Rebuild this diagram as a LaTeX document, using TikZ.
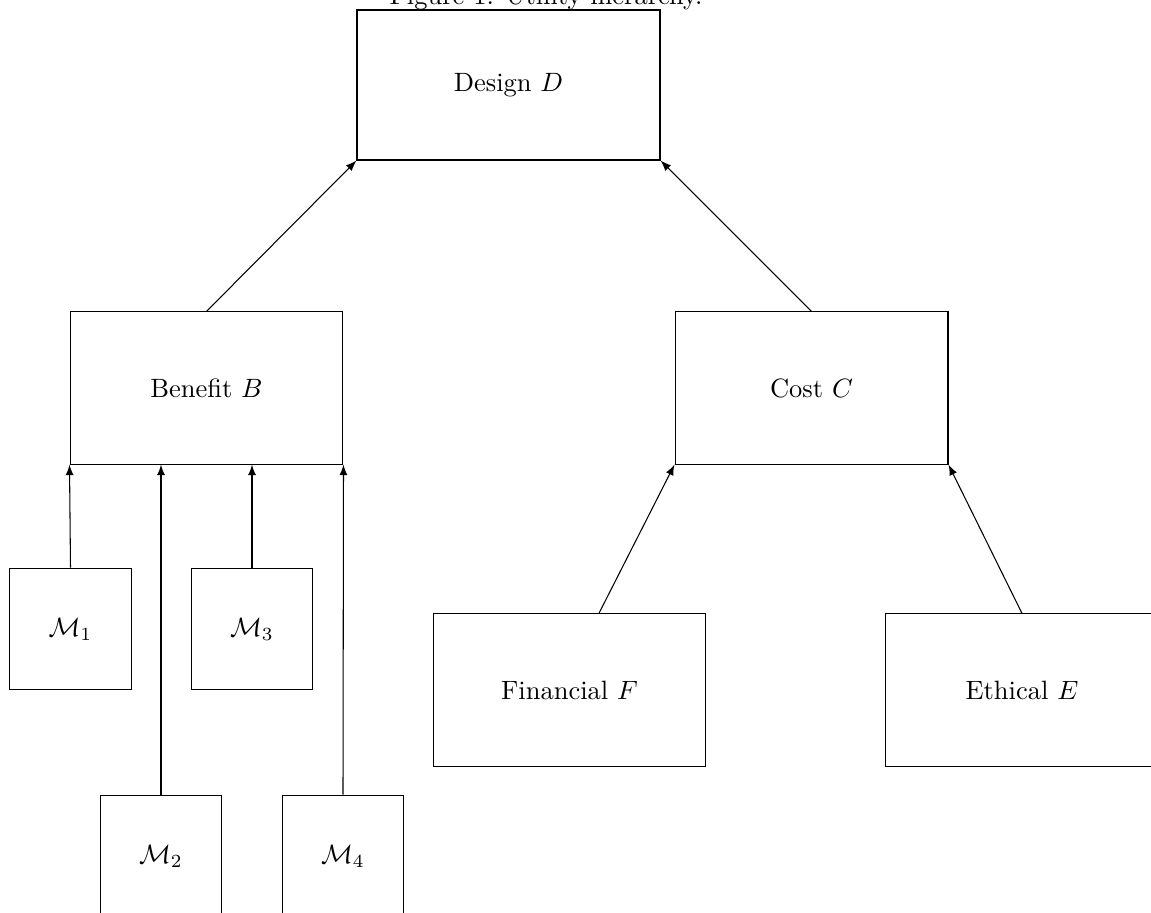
\documentclass[tikz,border=0pt]{standalone}
\usepackage{amsmath}

\tikzset{
  block/.style={draw, inner sep=0pt, minimum width=103pt, minimum height=57.4pt},
  mblock/.style={draw, inner sep=0pt, minimum width=46pt, minimum height=46pt},
  link/.style={-latex}
}

\begin{document}
\begin{tikzpicture}[x=0.3774pt,y=-0.3774pt]
        \useasboundingbox (0,0) rectangle (1151,913);
        \clip (0,0) rectangle (1151,913);
        % caption, cut off at the top
        \node[anchor=base] (cap) at (546,4.5) {Figure 1: Utility hierarchy.};
        % top level
        \node[block,minimum width=114.35pt,minimum height=56.6pt] (des) at (508.5,85) {Design $D$};
        % second level
        \node[block] (ben) at (206.5,388) {Benefit $B$};
        \node[block] (cost) at (811.5,388) {Cost $C$};
        % models
        \node[mblock] (m1) at (70.5,629) {$\mathcal{M}_1$};
        \node[mblock] (m3) at (252,629) {$\mathcal{M}_3$};
        \node[mblock] (m2) at (161,856) {$\mathcal{M}_2$};
        \node[mblock] (m4) at (343,856) {$\mathcal{M}_4$};
        % costs
        \node[block] (fin) at (569.5,690) {Financial $F$};
        \node[block] (eth) at (1022,690) {Ethical $E$};
        % links
        \draw[link] (ben.north) -- (des.south west);
        \draw[link] (cost.north) -- (des.south east);
        \draw[link] (m1.north) -- (ben.south west);
        \draw[link] (m2.north) -- (m2.north |- ben.south);
        \draw[link] (m3.north) -- (m3.north |- ben.south);
        \draw[link] (m4.north) -- (ben.south east);
        \draw[link] ([xshift=11.1pt]fin.north) -- (cost.south west);
        \draw[link] (eth.north) -- (cost.south east);
\end{tikzpicture}
\end{document}
